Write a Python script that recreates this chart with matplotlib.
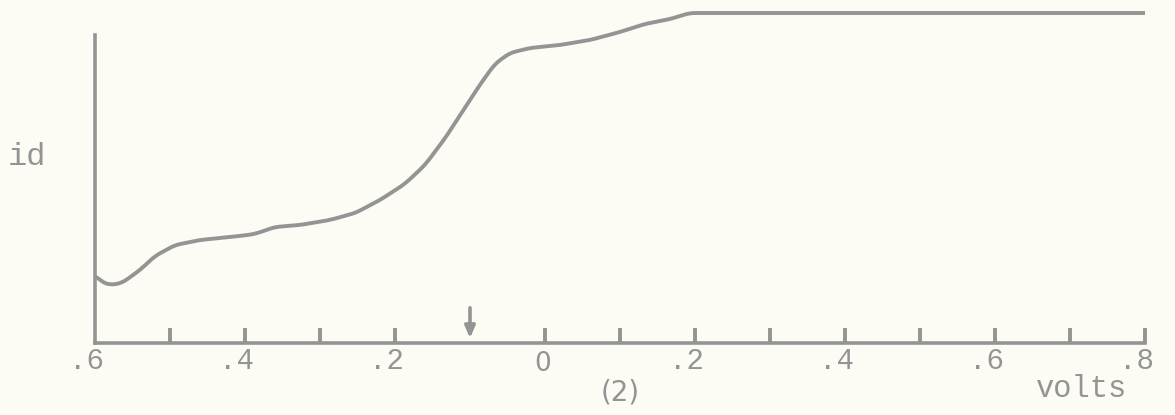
import numpy as np
import matplotlib
matplotlib.use("Agg")
import matplotlib.pyplot as plt
import matplotlib.transforms as mtransforms

# polarogram trace (volts, id in arbitrary units)
volts = [-0.600, -0.591, -0.580, -0.564, -0.540, -0.520, -0.493, -0.460,
         -0.407, -0.387, -0.360, -0.327, -0.287, -0.253, -0.220, -0.187,
         -0.160, -0.133, -0.107, -0.087, -0.067, -0.047, -0.020, 0.020,
         0.060, 0.100, 0.133, 0.167, 0.193, 0.800]
current = [68, 61, 58, 60, 73, 87, 98, 103,
           107, 109, 116, 118, 123, 130, 143, 159,
           178, 205, 235, 258, 279, 290, 295, 298,
           303, 311, 319, 324, 330, 330]

tick_pos = [-0.5, -0.4, -0.3, -0.2, 0.0, 0.1, 0.2, 0.3, 0.4, 0.5, 0.6, 0.7, 0.8]
label_pos = [-0.6, -0.4, -0.2, 0.0, 0.2, 0.4, 0.6, 0.8]
label_txt = [".6", ".4", ".2", "0", ".2", ".4", ".6", ".8"]
arrow_at = -0.1

ink = "#949494"
paper = "#fcfcf5"
mono = ["Liberation Mono", "DejaVu Sans Mono"]

fig = plt.figure(figsize=(11.75, 4.15), dpi=100, facecolor=paper)
ax = fig.add_axes([95 / 1175, 72 / 415, 1050 / 1175, 343 / 415])
ax.set_facecolor(paper)
ax.set_xlim(-0.6, 0.8)
ax.set_ylim(0, 343)

# smooth the hand-drawn trace a little
xs = np.linspace(volts[0], volts[-1], 800)
ys = np.interp(xs, volts, current)
k = np.ones(9) / 9
ys_s = np.convolve(np.pad(ys, 4, mode="edge"), k, mode="valid")
ax.plot(xs, ys_s, color=ink, lw=2.8, solid_capstyle="round")

for s in ["top", "right"]:
    ax.spines[s].set_visible(False)
ax.spines["left"].set_bounds(0, 308)
for s in ["left", "bottom"]:
    ax.spines[s].set_color(ink)
    ax.spines[s].set_linewidth(2.6)

ax.set_yticks([])
ax.set_xticks(tick_pos)
ax.set_xticklabels([])
ax.tick_params(axis="x", direction="in", length=11, width=2.8, color=ink)

# arrow marker on the axis
ax.annotate("", xy=(arrow_at, 2), xytext=(arrow_at, 38),
            arrowprops=dict(arrowstyle="-|>,head_length=0.7,head_width=0.3",
                            color=ink, lw=2.6))

trans = mtransforms.blended_transform_factory(ax.transData, fig.transFigure)
for x, t in zip(label_pos, label_txt):
    if t == "0":
        off = mtransforms.offset_copy(trans, fig=fig, x=-2, y=0, units="dots")
        ax.text(x, 1 - 364 / 415, t, transform=off, ha="center", va="center",
                fontsize=19, color=ink, family="DejaVu Sans")
    else:
        off = mtransforms.offset_copy(trans, fig=fig, x=-9, y=0, units="dots")
        ax.text(x, 1 - 361 / 415, t, transform=off, ha="center", va="center",
                fontsize=21, color=ink, family=mono)

fig.text(620 / 1175, 1 - 392 / 415, "(2)", ha="center", va="center",
         fontsize=20, color=ink, family="DejaVu Sans")
fig.text(1082 / 1175, 1 - 389 / 415, "volts", ha="center", va="center",
         fontsize=22, color=ink, family=mono)
fig.text(27 / 1175, 1 - 157 / 415, "id", ha="center", va="center",
         fontsize=23, color=ink, family=mono)

fig.savefig("out.png", dpi=100, facecolor=paper)
